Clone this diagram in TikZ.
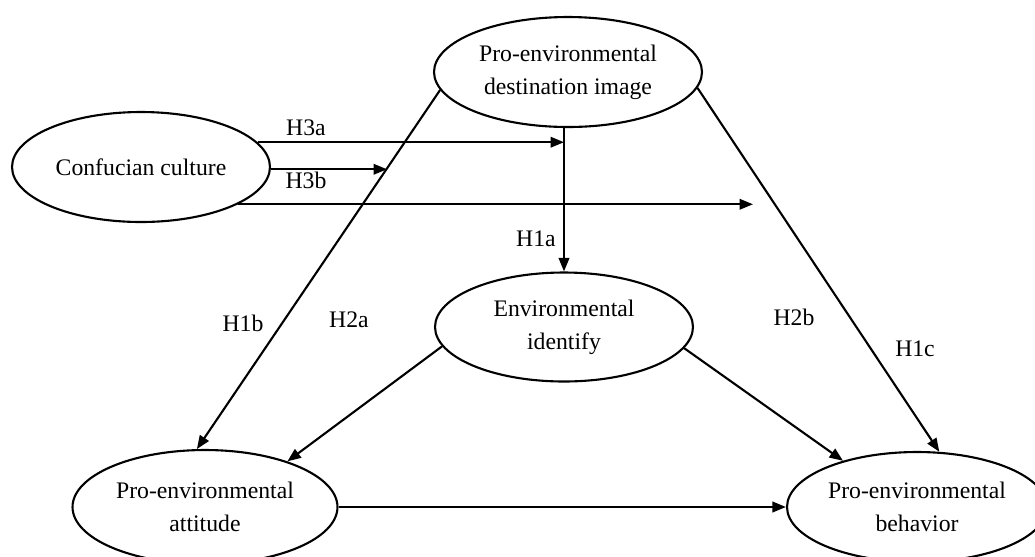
\documentclass[tikz,border=0pt]{standalone}
\usepackage{fontspec}
\setmainfont{Liberation Serif}
\usetikzlibrary{shapes.geometric}
\usetikzlibrary{arrows.meta}

\begin{document}
\begin{tikzpicture}[x=0.02cm, y=-0.02cm, line width=1.2pt,
    ovalnode/.style = {draw, ellipse, inner sep=0pt, align=center, font=\fontsize{13.5}{18.7}\selectfont},
    hlabel/.style = {inner sep=0pt, font=\fontsize{13.5}{16}\selectfont},
    earrow/.style = {-{Triangle[length=2.7mm, width=2.1mm]}}]
    \useasboundingbox (0,0) rectangle (1035,556);
    \clip (0,0) rectangle (1035,556);
    \node[ovalnode, minimum width=5.36cm, minimum height=2.2cm] (dest) at (568,72) {Pro-environmental\\destination image};
    \node[ovalnode, minimum width=5.16cm, minimum height=2.2cm] (cc) at (141,167) {Confucian culture};
    \node[ovalnode, minimum width=5.16cm, minimum height=2.18cm] (idn) at (564,327) {Environmental\\identify};
    \node[ovalnode, minimum width=5.3cm, minimum height=2.28cm] (att) at (205,507) {Pro-environmental\\attitude};
    \node[ovalnode, minimum width=5.2cm, minimum height=2.2cm] (beh) at (917,507) {Pro-environmental\\behavior};
    \coordinate (h3b) at (387,171);
    \coordinate (h3c) at (753,204);
    \draw[earrow] (dest.south -| idn.north) -- (idn.north);
    \draw[earrow] (dest.188.2) -- (att.98);
    \draw[earrow] (dest.-7.9) -- (beh.68.4);
    \draw[earrow] (idn.189.8) -- (att.29.8);
    \draw[earrow] (idn.-10) -- (beh.148.7);
    \draw[earrow] (att.east) -- (beh.west);
    \draw[earrow] (cc.12.8) -- (cc.12.8 -| idn.north);
    \draw[earrow] (cc.-1.8) -- (cc.-1.8 -| h3b);
    \draw[earrow] (cc.-21.3) -- (cc.-21.3 -| h3c);
    \node[hlabel] (l3a) at (306,128) {H3a};
    \node[hlabel] (l3b) at (306,180) {H3b};
    \node[hlabel] (l1a) at (536,239) {H1a};
    \node[hlabel] (l1b) at (243,323) {H1b};
    \node[hlabel] (l2a) at (349,320) {H2a};
    \node[hlabel] (l2b) at (794,317) {H2b};
    \node[hlabel] (l1c) at (915,349) {H1c};
\end{tikzpicture}
\end{document}
